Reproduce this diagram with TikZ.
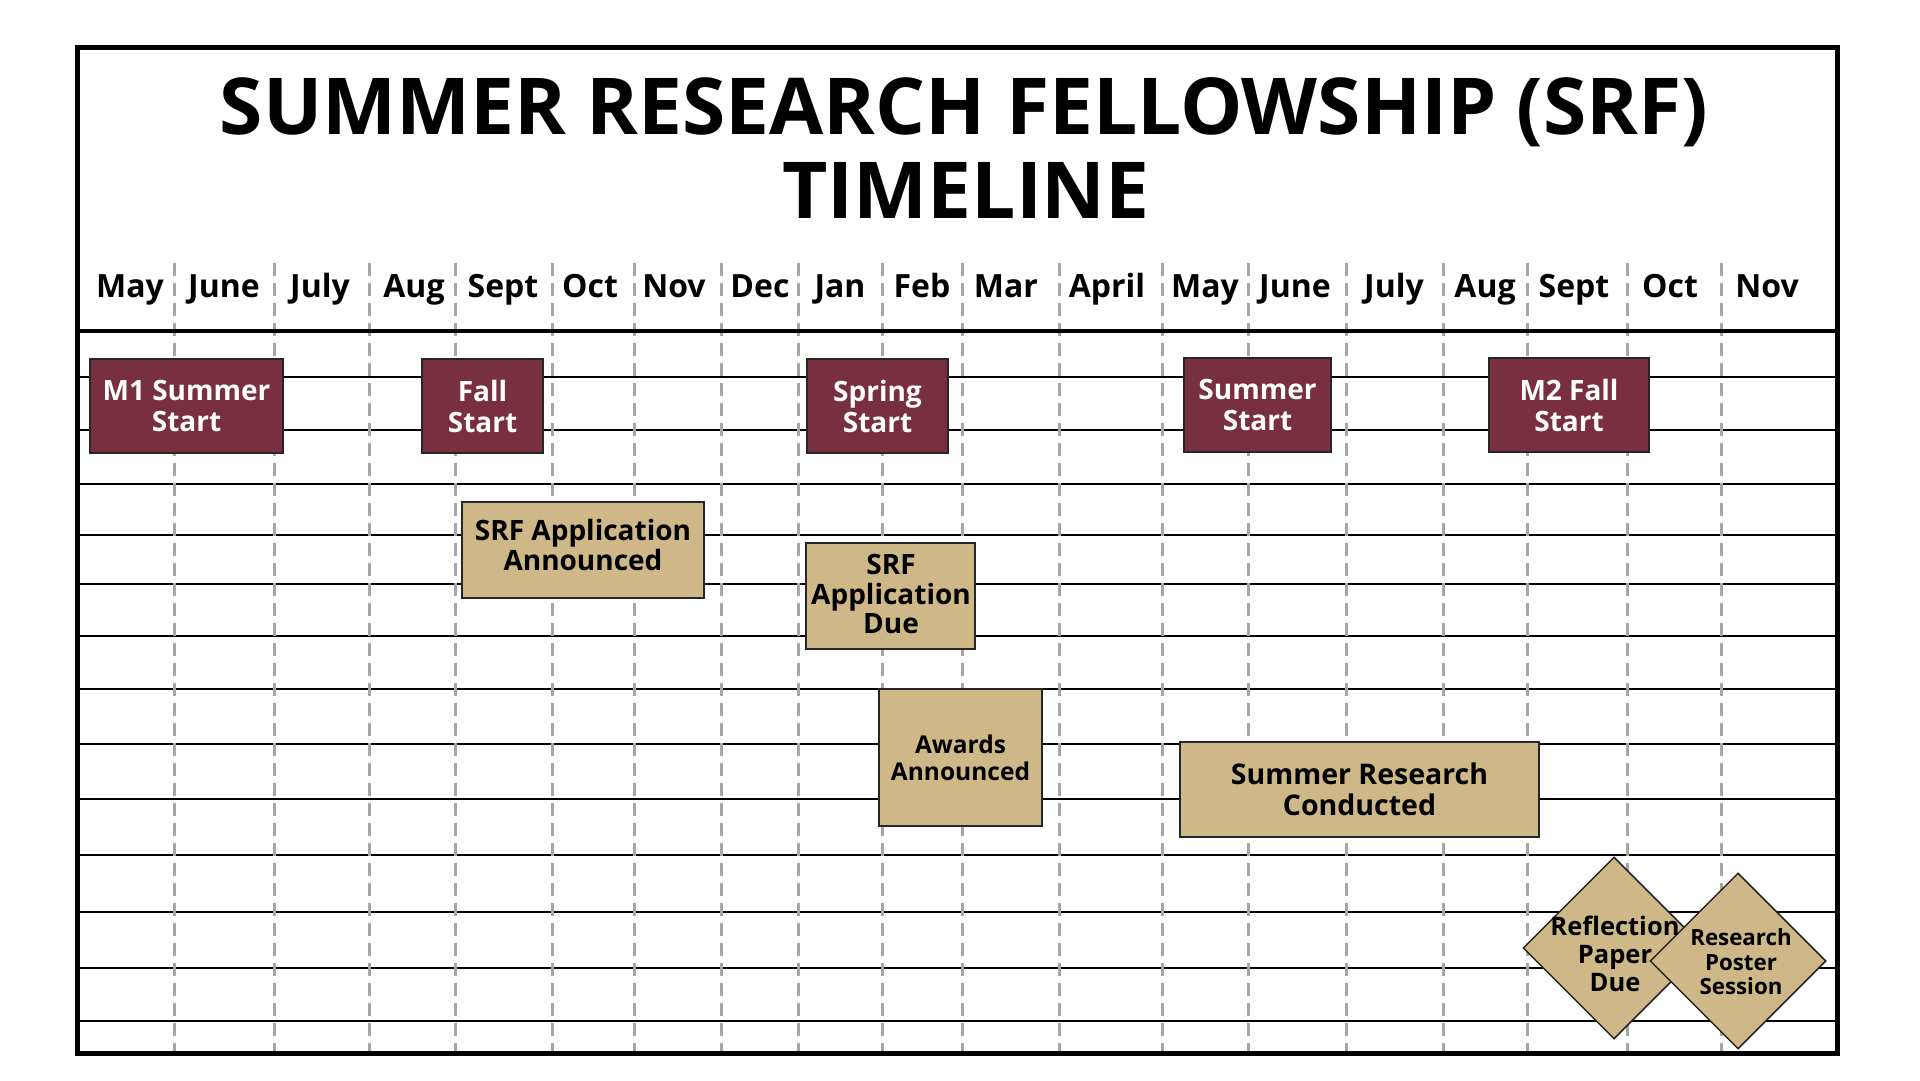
\documentclass[tikz,border=0pt]{standalone}
\usepackage{fontspec}
\setmainfont{Open Sans}
\usetikzlibrary{shapes.geometric}
\definecolor{garnet}{HTML}{782F40}
\definecolor{gold}{HTML}{CEB888}
\definecolor{gridgray}{HTML}{A6A6A6}
\tikzset{
  hline/.style={line width=2pt, black},
  vdash/.style={line width=3pt, gridgray, dash pattern=on 13pt off 7pt},
  framebox/.style={line width=5pt, black},
  garnetbox/.style={draw=black!85, line width=1.5pt, fill=garnet, text=white,
    font=\bfseries\fontsize{28pt}{31pt}\selectfont, align=center, inner sep=0pt},
  goldbox/.style={draw=black!85, line width=1.5pt, fill=gold, text=black,
    align=center, inner sep=0pt},
  gem/.style={diamond, draw=black!85, line width=1.5pt, fill=gold, inner sep=0pt,
    minimum width=#1, minimum height=#1},
  plaintext/.style={align=center, inner sep=0pt, text=black},
  monthlabel/.style={font=\bfseries\fontsize{32pt}{32pt}\selectfont, anchor=base, inner sep=0pt},
  titletext/.style={font=\bfseries\fontsize{78.5pt}{84pt}\selectfont, anchor=base, inner sep=0pt},
}
\begin{document}
\begin{tikzpicture}[x=1pt, y=-1pt]
\useasboundingbox[fill=white] (0,0) rectangle (1920,1080);
% grid
\foreach \y in {377,430,484,535,584,636,689,744,799,855,912,968,1021}
  \draw[hline] (77,\y) -- (1837,\y);
\foreach \x in {174,274,369,455,552,634,721,798,882,962,1059,1162,1248,1346,1443,1527,1627,1721}
  \draw[vdash] (\x,263) -- (\x,1053);
% frame and header line
\draw[framebox] (77,47) rectangle (1837,1053);
\draw[line width=4.5pt] (77,331) -- (1837,331);
% title
\node[titletext] (title1) at (964,134) {SUMMER RESEARCH FELLOWSHIP (SRF)};
\node[titletext] (title2) at (966,218) {TIMELINE};
% months
\foreach \x/\m [count=\i] in {130/May,224/June,320/July,414/Aug,503/Sept,590/Oct,674/Nov,760/Dec,840/Jan,922/Feb,1006/Mar,1107/April,1205/May,1295/June,1394/July,1485/Aug,1574/Sept,1670/Oct,1767/Nov}
  \node[monthlabel] (mon\i) at (\x,297) {\m};
% garnet boxes
\node[garnetbox, minimum width=193pt, minimum height=94pt] (m1) at (186.5,406) {M1 Summer\\Start};
\node[garnetbox, minimum width=121pt, minimum height=94pt] (fall) at (482.5,406) {Fall\\Start};
\node[garnetbox, minimum width=141pt, minimum height=94pt] (spring) at (877.5,406) {Spring\\Start};
\node[garnetbox, minimum width=147pt, minimum height=94pt] (summer) at (1257.5,405) {Summer\\Start};
\node[garnetbox, minimum width=160pt, minimum height=94pt] (m2) at (1569,405) {M2 Fall\\Start};
% gold boxes
\node[goldbox, minimum width=242pt, minimum height=96pt] (ann) at (583,550) {};
\node[plaintext, font=\bfseries\fontsize{28pt}{29.5pt}\selectfont] (anntext) at (583,545) {SRF Application\\Announced};
\node[goldbox, minimum width=169pt, minimum height=106pt] (due) at (890.5,596) {};
\node[plaintext, font=\bfseries\fontsize{28pt}{29.5pt}\selectfont] (duetext) at (891,594) {SRF\\Application\\Due};
\node[goldbox, minimum width=163pt, minimum height=137pt, font=\bfseries\fontsize{24.5pt}{27pt}\selectfont] (awards) at (960.5,757.5) {Awards\\Announced};
\node[goldbox, minimum width=359pt, minimum height=95pt, font=\bfseries\fontsize{28.5pt}{31pt}\selectfont] (research) at (1359.5,789.5) {Summer Research\\Conducted};
% diamonds
\node[gem=182pt] (refl) at (1614,948) {};
\node[gem=176pt] (poster) at (1738,961) {};
\node[plaintext, font=\bfseries\fontsize{25.5pt}{27.7pt}\selectfont] (refltext) at (1615,954) {Reflection\\Paper\\Due};
\node[plaintext, font=\bfseries\fontsize{22.3pt}{24.6pt}\selectfont] (postertext) at (1741,962) {Research\\Poster\\Session};
\end{tikzpicture}
\end{document}
